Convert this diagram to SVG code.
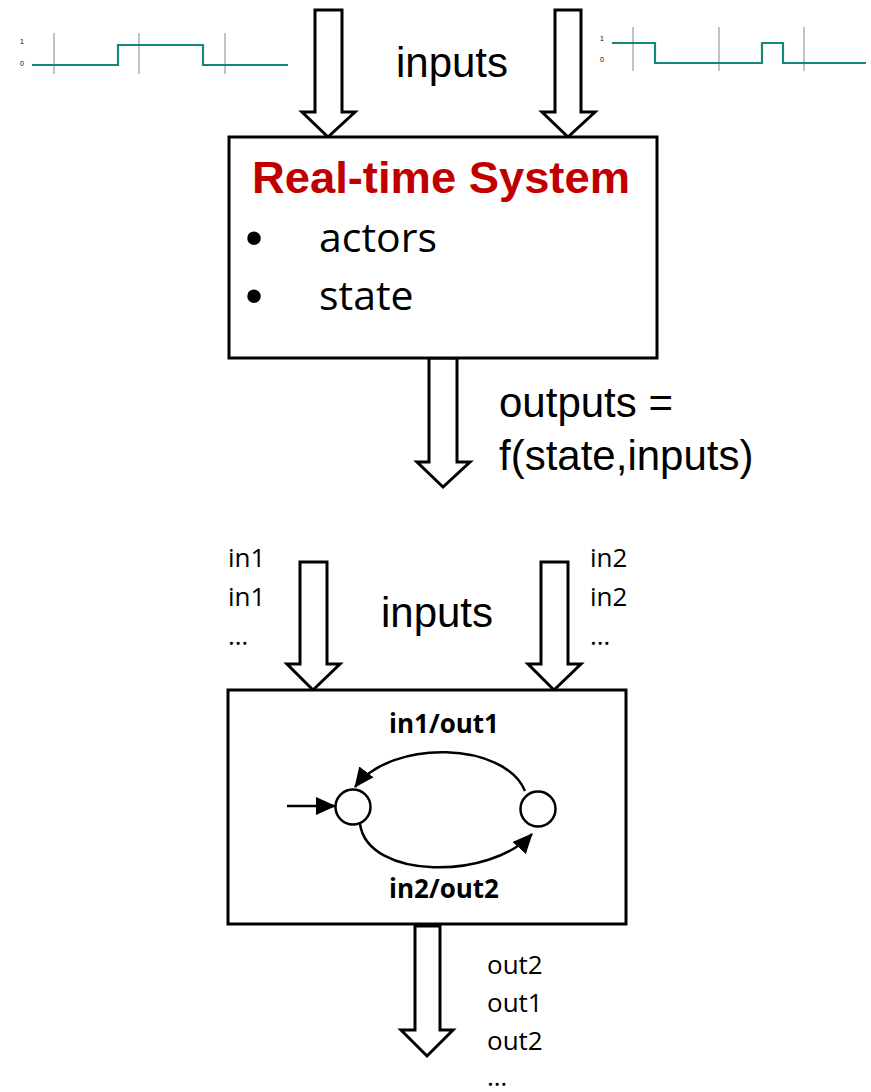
<svg xmlns="http://www.w3.org/2000/svg" width="871" height="1092" viewBox="0 0 871 1092">
<style>
.arr{fill:#fff;stroke:#000;stroke-width:3;stroke-linejoin:miter}
.box{fill:#fff;stroke:#000;stroke-width:3}
.big{font-family:"Liberation Sans",Arial,sans-serif;font-size:42px;fill:#000}
.cal{font-family:"Open Sans","Liberation Sans",sans-serif;fill:#000}
.bul{font-family:"Liberation Sans",Arial,sans-serif;font-size:50px;fill:#000}
.grid{stroke:#999;stroke-width:1.2}
.wave{fill:none;stroke:#17877a;stroke-width:2.2}
.tick{font-family:"Liberation Sans",Arial,sans-serif;font-size:7px;fill:#000}
.edge{fill:none;stroke:#000;stroke-width:2.5}
</style>
<defs>
<marker id="ah2" markerWidth="20" markerHeight="20" refX="19" refY="10" orient="auto" markerUnits="userSpaceOnUse" viewBox="0 0 20 20">
<path d="M0,1 L20,10 L0,19 Z" fill="#000"/>
</marker>
</defs>

<g id="waveform-left">
<line class="grid" x1="54" y1="33" x2="54" y2="74"/>
<line class="grid" x1="139" y1="33" x2="139" y2="74"/>
<line class="grid" x1="225" y1="33" x2="225" y2="74"/>
<text class="tick" x="20" y="44">1</text>
<text class="tick" x="20" y="66">0</text>
<path class="wave" d="M32,65 H118 V45 H203 V65 H288"/>
</g>
<g id="waveform-right">
<line class="grid" x1="633" y1="27" x2="633" y2="71"/>
<line class="grid" x1="719" y1="27" x2="719" y2="71"/>
<line class="grid" x1="804" y1="27" x2="804" y2="71"/>
<text class="tick" x="600" y="41">1</text>
<text class="tick" x="600" y="62">0</text>
<path class="wave" d="M612,43 H655 V63 H762 V43 H783 V63 H866"/>
</g>

<g id="connectors">
<path class="arr" d="M315,10 H342 V112 H355 L328,137 L302,112 H315 Z"/>
<path class="arr" d="M555,10 H581 V112 H595 L568,137 L542,112 H555 Z"/>
<path class="arr" d="M429,358 H457 V462 H470 L443,487 L417,462 H429 Z"/>
<path class="arr" d="M300,562 H327 V664 H340 L313,690 L287,664 H300 Z"/>
<path class="arr" d="M541,562 H568 V664 H581 L554,690 L528,664 H541 Z"/>
<path class="arr" d="M415,926 H440 V1030 H453 L427,1056 L401,1030 H415 Z"/>
</g>

<text class="big" x="452" y="77" text-anchor="middle">inputs</text>

<g id="rts">
<rect class="box" x="229" y="137" width="428" height="221"/>
<text x="441" y="193" text-anchor="middle" font-family="'Liberation Sans',Arial,sans-serif" font-weight="bold" font-size="45" fill="#C00000" textLength="378" lengthAdjust="spacingAndGlyphs">Real-time System</text>
<text class="bul" x="254" y="255" text-anchor="middle">•</text>
<text class="cal" x="319" y="252" font-size="41">actors</text>
<text class="bul" x="254" y="313" text-anchor="middle">•</text>
<text class="cal" x="319" y="310" font-size="41">state</text>
</g>

<text class="big" x="499" y="417">outputs =</text>
<text class="big" x="499" y="470">f(state,inputs)</text>

<g class="cal" font-size="26">
<text x="228" y="567">in1</text>
<text x="228" y="606">in1</text>
<text x="228" y="645">…</text>
<text x="590" y="567">in2</text>
<text x="590" y="606">in2</text>
<text x="590" y="645">…</text>
</g>
<text class="big" x="437" y="627" text-anchor="middle">inputs</text>

<g id="fsm">
<rect class="box" x="228" y="690" width="398" height="234"/>
<text class="cal" x="444" y="733" text-anchor="middle" font-size="26" font-weight="bold">in1/out1</text>
<text class="cal" x="444" y="898" text-anchor="middle" font-size="26" font-weight="bold">in2/out2</text>
<circle cx="353" cy="807" r="17.5" fill="#fff" stroke="#000" stroke-width="2.5"/>
<circle cx="538" cy="809" r="17.5" fill="#fff" stroke="#000" stroke-width="2.5"/>
<line class="edge" x1="287" y1="806" x2="335" y2="806" marker-end="url(#ah2)"/>
<path class="edge" d="M525,791 C505,742 392,738 355,787" marker-end="url(#ah2)"/>
<path class="edge" d="M360,824 C368,880 490,880 532,834" marker-end="url(#ah2)"/>
</g>

<g class="cal" font-size="26">
<text x="487" y="974">out2</text>
<text x="487" y="1012">out1</text>
<text x="487" y="1050">out2</text>
<text x="487" y="1086">…</text>
</g>
</svg>
